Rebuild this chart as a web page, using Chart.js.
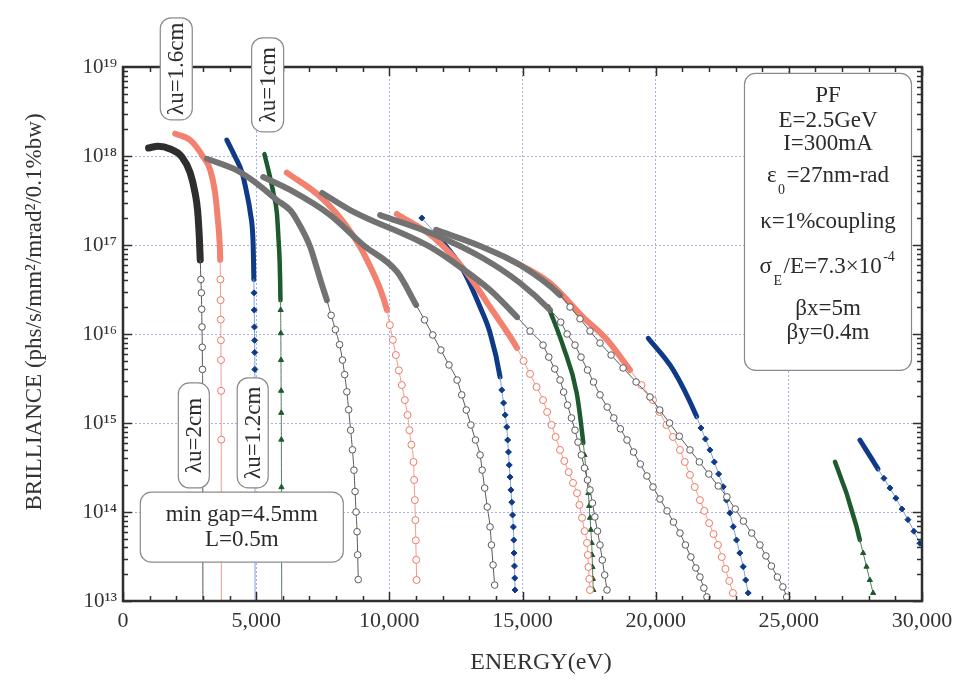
<!DOCTYPE html>
<html><head><meta charset="utf-8">
<script src="https://cdn.jsdelivr.net/npm/chart.js@4/dist/chart.umd.min.js"></script>
<style>html,body{margin:0;padding:0;background:#fff}#wrap{width:960px;height:687px}</style>
</head><body><div id="wrap"><canvas id="c" width="960" height="687"></canvas></div>
<script>
// ---------------- DATA (energy in eV, brilliance in phs/s/mm2/mrad2/0.1%bw) ----------------
// lambda_u = 2 cm (grey, open circles)
const E_2cm_h1 = [960,1320,1770,2210,2520,2710,2800,2870,2900,2925,2942,2955,2966,2976,2984,2991,3000];
const B_2cm_h1 = [1.23e18,1.29e18,1.2e18,9.8e17,6.5e17,3.8e17,2.45e17,1.15e17,6.8e16,4.1e16,2.9e16,1.9e16,1.2e16,7.1e15,4.0e15,2.4e15,1e13];
const E_2cm_h3 = [3150,4280,5030,5780,6280,6530,7030,7240,7440,7655,7816,7974,8131,8240,8323,8405,8473,8548,8615,8672,8713,8751,8788,8811,8833];
const B_2cm_h3 = [9.3e17,6.9e17,4.9e17,3.2e17,2.45e17,1.9e17,9.5e16,6.0e16,3.8e16,2.4e16,1.62e16,1.12e16,7.6e15,5.1e15,3.5e15,2.24e15,1.41e15,8.3e14,5.0e14,2.95e14,1.7e14,1e14,6.0e13,3.3e13,1.74e13];
const E_2cm_h5 = [5265,6278,7779,9017,10293,11006,11321,11632,11936,12240,12544,12717,12889,13062,13235,13407,13486,13580,13677,13782,13835,13895,13955];
const B_2cm_h5 = [5.8e17,4.15e17,2.17e17,1e17,4.98e16,2.12e16,1.44e16,9.75e15,6.6e15,4.49e15,3.04e15,2.07e15,1.4e15,9.5e14,6.44e14,4.37e14,2.96e14,1.86e14,1.14e14,6.8e13,4.26e13,2.54e13,1.51e13];
const E_2cm_h7 = [7478,8529,11531,12657,13782,14795,15283,15771,15988,16210,16409,16544,16690,16837,16972,17084,17208,17328,17441,17535,17625,17718,17816,17910,17996,18086,18173];
const B_2cm_h7 = [3.84e17,2.47e17,9.5e16,5.66e16,3.12e16,1.55e16,1.08e16,7.5e15,5.5e15,4.05e15,3.04e15,2.23e15,1.59e15,1.14e15,8.3e14,6.1e14,4.37e14,3.12e14,2.29e14,1.77e14,1.26e14,8.8e13,6.1e13,4.26e13,2.89e13,1.96e13,1.33e13];
const E_2cm_h9 = [9655,11644,13520,14908,16034,16435,16675,16972,17197,17441,17666,17910,18180,18428,18675,18923,19171,19422,19670,19899,20161,20428,20668,20912,21118,21321,21508,21662,21809,21925];
const B_2cm_h9 = [2.17e17,1.33e17,7.1e16,3.74e16,1.86e16,1.36e16,1e16,7.5e15,5.5e15,3.94e15,2.89e15,2.07e15,1.51e15,1.14e15,8.6e14,6.44e14,4.72e14,3.46e14,2.54e14,1.91e14,1.4e14,1.03e14,7.7e13,5.8e13,4.26e13,3.12e13,2.35e13,1.86e13,1.4e13,1.11e13];
const E_2cm_h11 = [11756,13407,14908,16409,16784,17159,17535,17910,18326,18777,19265,19786,20154,20522,20889,21287,21640,21996,22349,22675,22987,23295,23606,23914,24139,24345,24570,24777,24919];
const B_2cm_h11 = [1.48e17,9.75e16,5.96e16,2.74e16,2.01e16,1.48e16,1.08e16,7.9e15,5.8e15,4.15e15,2.89e15,1.96e15,1.4e15,1e15,7.1e14,4.98e14,3.65e14,2.67e14,1.96e14,1.48e14,1.08e14,7.9e13,5.8e13,4.26e13,3.21e13,2.47e13,1.86e13,1.44e13,1.11e13];
// lambda_u = 1.6 cm (salmon, open circles)
const E_16cm_h1 = [1960,2520,3010,3280,3460,3550,3620,3650,3657,3664,3670,3675,3679,3684,3688,3692];
const B_16cm_h1 = [1.78e18,1.51e18,9.8e17,6.9e17,3.8e17,2.1e17,1.15e17,6.8e16,4.1e16,2.4e16,1.45e16,8.5e15,5.1e15,2.3e15,6.5e14,1e13];
const E_16cm_h3 = [6150,7400,8410,9160,9910,10019,10131,10244,10356,10469,10582,10683,10754,10829,10908,10931,10957,10979,10994,11009,11024];
const B_16cm_h3 = [6.5e17,3.5e17,1.6e17,6.8e16,1.86e16,1.26e16,8.6e15,5.8e15,3.9e15,2.67e15,1.81e15,1.23e15,8.3e14,5.7e14,3.65e14,2.29e14,1.36e14,8.1e13,4.8e13,2.9e13,1.72e13];
const E_16cm_h5 = [10281,11644,12919,13782,14795,15039,15283,15527,15771,15925,16090,16244,16409,16570,16735,16897,17047,17137,17235,17332,17422,17452,17478,17508,17535];
const B_16cm_h5 = [2.23e17,1.23e17,4.84e16,2.01e16,6.97e15,4.98e15,3.56e15,2.54e15,1.81e15,1.33e15,9.5e14,6.97e14,4.98e14,3.74e14,2.81e14,2.12e14,1.63e14,1.2e14,8.6e13,6.1e13,4.49e13,3.29e13,2.41e13,1.77e13,1.33e13];
const E_16cm_h7 = [14348,16034,17272,18173,19036,19467,19899,20143,20405,20649,20912,21092,21287,21467,21662,21827,22007,22173,22338,22480,22619,22762,22901];
const B_16cm_h7 = [7.33e16,3.74e16,1.55e16,8.6e15,3.94e15,2.67e15,1.81e15,1.33e15,9.5e14,6.97e14,4.98e14,3.65e14,2.61e14,1.91e14,1.36e14,1.03e14,7.5e13,5.66e13,4.26e13,3.12e13,2.29e13,1.68e13,1.23e13];
// lambda_u = 1.2 cm (blue, filled diamonds)
const E_12cm_h1 = [3900,4210,4470,4650,4780,4880,4900,4912,4920,4928,4935,4941,4946,4950,4960];
const B_12cm_h1 = [1.51e18,9.8e17,6.5e17,3.8e17,2.3e17,1.15e17,6.8e16,4.1e16,2.9e16,1.86e16,1.2e16,8.5e15,6.2e15,4e15,1e13];
const E_12cm_h3 = [11220,11782,12769,13407,13782,14158,14221,14289,14349,14409,14443,14473,14503,14533,14567,14597,14627,14657,14672,14683,14698,14709,14720];
const B_12cm_h3 = [2.01e17,1.29e17,5.24e16,2.01e16,1.03e16,3.29e15,2.35e15,1.68e15,1.23e15,9e14,6.44e14,4.72e14,3.37e14,2.47e14,1.77e14,1.29e14,9.25e13,6.8e13,4.84e13,3.46e13,2.47e13,1.81e13,1.33e13];
const E_12cm_h5 = [19722,20660,21538,21700,21869,22037,22203,22364,22537,22660,22784,22912,23036,23159,23287,23381,23475];
const B_12cm_h5 = [8.95e15,3.94e15,1.18e15,8.8e14,6.6e14,4.98e14,3.65e14,2.67e14,1.92e14,1.36e14,9.75e13,6.84e13,4.84e13,3.46e13,2.43e13,1.72e13,1.23e13];
const E_12cm_h7 = [27670,27895,28120,28345,28570,28795,29020,29246,29471,29696,29921];
const B_12cm_h7 = [6.44e14,5.02e14,3.92e14,3.05e14,2.39e14,1.86e14,1.43e14,1.08e14,8.2e13,6.07e13,4.45e13];
// lambda_u = 1 cm (green, filled triangles)
const E_1cm_h1 = [5310,5460,5650,5780,5840,5880,5900,5912,5920,5926,5932,5937,5942,5946,5950,5960];
const B_1cm_h1 = [1.05e18,6.9e17,3.8e17,2.24e17,1.15e17,6.8e16,4e16,2.4e16,1.86e16,1.02e16,5.1e15,2.3e15,1.3e15,6.5e14,1.9e14,1e13];
const E_1cm_h3 = [15970,16533,17036,17283,17328,17377,17422,17471,17505,17535,17565,17598,17613,17628,17643,17659];
const B_1cm_h3 = [2.03e16,7.2e15,2.17e15,5.96e14,4.37e14,3.12e14,2.29e14,1.63e14,1.17e14,8.6e13,6.3e13,4.49e13,3.29e13,2.41e13,1.77e13,1.33e13];
const E_1cm_h5 = [26732,26848,26998,27167,27287,27411,27542,27666,27790,27917,28041,28165];
const B_1cm_h5 = [3.67e14,2.96e14,2.23e14,1.62e14,1.23e14,9.25e13,6.84e13,4.84e13,3.46e13,2.43e13,1.72e13,1.23e13];

// axis ticks and titles
const X_TICK_VALUES = [0,5000,10000,15000,20000,25000,30000];
const X_TICK_LABELS = ['0','5,000','10,000','15,000','20,000','25,000','30,000'];
const Y_DECADES = [13,14,15,16,17,18,19];
const X_TITLE = 'ENERGY(eV)';
const Y_TITLE = 'BRILLIANCE (phs/s/mm²/mrad²/0.1%bw)';

// ---------------- STYLES ----------------
const SERIF = '"Liberation Serif","Times New Roman",serif';
const STYLE = {
  g1:   {thick:'#2e2e2e', w:7,   thin:'#555', marker:'#555', fill:'#fff', style:'circle', r:3.3},
  gray: {thick:'#727272', w:6,   thin:'#5a5a5a', marker:'#5a5a5a', fill:'#fff', style:'circle', r:3.3},
  red:  {thick:'#f2826f', w:6,   thin:'#f29a8a', marker:'#ee7a66', fill:'#fff', style:'circle', r:3.5},
  blue: {thick:'#0e3a88', w:5,   thin:'#7f9fd6', marker:'#0e3a88', fill:'#0e3a88', style:'rectRot', r:3},
  green:{thick:'#1f5a2f', w:4.5, thin:'#557a5e', marker:'#1f5a2f', fill:'#1f5a2f', style:'triangle', r:3}
};
const curves = [
  {name:'λu=2cm 1st',  E:E_2cm_h1,  B:B_2cm_h1,  kind:'g1',   dense:[0,8]},
  {name:'λu=2cm 3rd',  E:E_2cm_h3,  B:B_2cm_h3,  kind:'gray', dense:[0,9]},
  {name:'λu=2cm 5th',  E:E_2cm_h5,  B:B_2cm_h5,  kind:'gray', dense:[0,5]},
  {name:'λu=2cm 7th',  E:E_2cm_h7,  B:B_2cm_h7,  kind:'gray', dense:[0,5]},
  {name:'λu=2cm 9th',  E:E_2cm_h9,  B:B_2cm_h9,  kind:'gray', dense:[0,4]},
  {name:'λu=2cm 11th', E:E_2cm_h11, B:B_2cm_h11, kind:'gray', dense:[0,3]},
  {name:'λu=1.6cm 1st',E:E_16cm_h1, B:B_16cm_h1, kind:'red',  dense:[0,7]},
  {name:'λu=1.6cm 3rd',E:E_16cm_h3, B:B_16cm_h3, kind:'red',  dense:[0,4]},
  {name:'λu=1.6cm 5th',E:E_16cm_h5, B:B_16cm_h5, kind:'red',  dense:[0,4]},
  {name:'λu=1.6cm 7th',E:E_16cm_h7, B:B_16cm_h7, kind:'red',  dense:[0,4]},
  {name:'λu=1.2cm 1st',E:E_12cm_h1, B:B_12cm_h1, kind:'blue', dense:[0,7]},
  {name:'λu=1.2cm 3rd',E:E_12cm_h3, B:B_12cm_h3, kind:'blue', dense:[1,5]},
  {name:'λu=1.2cm 5th',E:E_12cm_h5, B:B_12cm_h5, kind:'blue', dense:[0,2]},
  {name:'λu=1.2cm 7th',E:E_12cm_h7, B:B_12cm_h7, kind:'blue', dense:[0,3]},
  {name:'λu=1cm 1st',  E:E_1cm_h1,  B:B_1cm_h1,  kind:'green',dense:[0,7]},
  {name:'λu=1cm 3rd',  E:E_1cm_h3,  B:B_1cm_h3,  kind:'green',dense:[0,3]},
  {name:'λu=1cm 5th',  E:E_1cm_h5,  B:B_1cm_h5,  kind:'green',dense:[0,7]}
];

// annotation boxes: centre in data units, size in px
const NOTES = [
  {rot:true, text:'λu=1.6cm', E:2000, B:Math.pow(10,18.98), w:32, h:102},
  {rot:true, text:'λu=1cm',   E:5430, B:Math.pow(10,18.80), w:32, h:94},
  {rot:true, text:'λu=2cm',   E:2660, B:Math.pow(10,14.86), w:31, h:105},
  {rot:true, text:'λu=1.2cm', E:4870, B:Math.pow(10,14.89), w:31, h:110},
  {rot:false, E:4460, B:Math.pow(10,13.83), w:203, h:70,
   lines:[{dy:-6,parts:[{t:'min gap=4.5mm'}]},{dy:19,parts:[{t:'L=0.5m'}]}]},
  {rot:false, E:26470, B:Math.pow(10,17.26), w:167, h:297,
   lines:[
     {dy:-120,parts:[{t:'PF'}]},
     {dy:-95,parts:[{t:'E=2.5GeV'}]},
     {dy:-72,parts:[{t:'I=300mA'}]},
     {dy:-40,parts:[{t:'ε'},{t:'0',sub:true},{t:'=27nm-rad'}]},
     {dy:6,parts:[{t:'κ=1%coupling'}]},
     {dy:51,parts:[{t:'σ'},{t:'E',sub:true},{t:'/E=7.3×10'},{t:'-4',sup:true}]},
     {dy:93,parts:[{t:'βx=5m'}]},
     {dy:117,parts:[{t:'βy=0.4m'}]}
   ]}
];

// ---------------- HELPERS ----------------
const SUP = {'0':'⁰','1':'¹','2':'²','3':'³','4':'⁴','5':'⁵','6':'⁶','7':'⁷','8':'⁸','9':'⁹','-':'⁻'};
const toSup = s => String(s).split('').map(ch => SUP[ch] || ch).join('');

const frameTicks = {
  id:'frameTicks',
  afterDatasetsDraw(chart){
    const {ctx, chartArea:a, scales:{x, y}} = chart;
    ctx.save();
    ctx.strokeStyle = '#2e2e2e';
    ctx.lineWidth = 1.5;
    ctx.beginPath();
    for (let v = 0; v <= 30000; v += 1000) {
      const px = Math.round(x.getPixelForValue(v)) + 0.5;
      const L = v % 5000 === 0 ? 9 : 5;
      ctx.moveTo(px, a.bottom); ctx.lineTo(px, a.bottom - L);
      ctx.moveTo(px, a.top); ctx.lineTo(px, a.top + L);
    }
    for (let d = 13; d < 19; d++) {
      for (let m = 1; m < 10; m++) {
        const py = Math.round(y.getPixelForValue(m * Math.pow(10, d))) + 0.5;
        const L = m === 1 ? 9 : 5;
        ctx.moveTo(a.left, py); ctx.lineTo(a.left + L, py);
        ctx.moveTo(a.right, py); ctx.lineTo(a.right - L, py);
      }
    }
    ctx.stroke();
    ctx.lineWidth = 2.5;
    ctx.strokeRect(a.left, a.top, a.right - a.left, a.bottom - a.top);
    ctx.restore();
  }
};

function roundBox(ctx, x, y, w, h, r){
  ctx.beginPath();
  ctx.moveTo(x + r, y);
  ctx.arcTo(x + w, y, x + w, y + h, r);
  ctx.arcTo(x + w, y + h, x, y + h, r);
  ctx.arcTo(x, y + h, x, y, r);
  ctx.arcTo(x, y, x + w, y, r);
  ctx.closePath();
  ctx.fillStyle = '#fff'; ctx.fill();
  ctx.strokeStyle = '#8a8a8a'; ctx.lineWidth = 1.2; ctx.stroke();
}

const textPlugin = {
  id:'texts',
  afterDraw(chart){
    const {ctx, scales:{x, y}} = chart;
    ctx.save();
    // axis titles
    ctx.fillStyle = '#333';
    ctx.textAlign = 'center'; ctx.textBaseline = 'middle';
    ctx.font = '24px ' + SERIF;
    ctx.fillText(X_TITLE, 541, 663);
    ctx.save();
    ctx.translate(35, 312); ctx.rotate(-Math.PI/2);
    ctx.font = '23px ' + SERIF;
    ctx.fillText(Y_TITLE, 0, 0);
    ctx.restore();
    // annotation boxes
    for (const n of NOTES) {
      const cx = x.getPixelForValue(n.E), cy = y.getPixelForValue(n.B);
      roundBox(ctx, cx - n.w/2, cy - n.h/2, n.w, n.h, 11);
      ctx.fillStyle = '#2b2b2b';
      if (n.rot) {
        ctx.save();
        ctx.translate(cx, cy);
        ctx.rotate(-Math.PI/2);
        ctx.font = '23px ' + SERIF;
        ctx.textAlign = 'center';
        ctx.textBaseline = 'middle';
        ctx.fillText(n.text, 0, 1);
        ctx.restore();
      } else {
        for (const ln of n.lines) {
          const big = '23px ' + SERIF, small = '14px ' + SERIF;
          let total = 0;
          for (const p of ln.parts) { ctx.font = (p.sub || p.sup) ? small : big; total += ctx.measureText(p.t).width + ((p.sub||p.sup) ? 3 : 0); }
          let px = cx - total/2;
          const base = cy + ln.dy;
          ctx.textAlign = 'left'; ctx.textBaseline = 'alphabetic';
          for (const p of ln.parts) {
            ctx.font = (p.sub || p.sup) ? small : big;
            const off = p.sub ? 12 : (p.sup ? -12 : 0);
            const pad = (p.sub||p.sup) ? 1.5 : 0;
            ctx.fillText(p.t, px + pad, base + off);
            px += ctx.measureText(p.t).width + 2*pad;
          }
        }
      }
    }
    ctx.restore();
  }
};

// ---------------- CHART ----------------
const datasets = curves.map(c => {
  const st = STYLE[c.kind];
  const [d0, d1] = c.dense;
  const inDense = (a, b) => a >= d0 && b <= d1;
  return {
    label: c.name,
    data: c.E.map((e, i) => ({x: e, y: c.B[i]})),
    showLine: true,
    borderColor: st.thin,
    borderWidth: 1,
    backgroundColor: st.fill,
    pointStyle: st.style,
    pointBorderColor: st.marker,
    pointBackgroundColor: st.fill,
    pointBorderWidth: 1,
    pointRadius: ctx => (ctx.dataIndex >= d0 && ctx.dataIndex <= d1) || c.B[ctx.dataIndex] <= 1e13 ? 0 : st.r,
    pointHoverRadius: 0,
    cubicInterpolationMode: 'monotone',
    borderCapStyle: 'round',
    borderJoinStyle: 'round',
    segment: {
      borderWidth: ctx => inDense(ctx.p0DataIndex, ctx.p1DataIndex) ? st.w : 1,
      borderColor: ctx => inDense(ctx.p0DataIndex, ctx.p1DataIndex) ? st.thick : st.thin
    }
  };
});

new Chart(document.getElementById('c'), {
  type: 'scatter',
  data: {datasets},
  options: {
    responsive: false,
    animation: false,
    devicePixelRatio: 1,
    layout: {padding: {left: 0, right: 38, top: 67, bottom: 0}},
    plugins: {legend: {display: false}, tooltip: {enabled: false}},
    scales: {
      x: {
        type: 'linear', min: 0, max: 30000,
        afterFit: s => { s.height = 86; },
        afterBuildTicks: s => { s.ticks = X_TICK_VALUES.map(v => ({value: v})); },
        ticks: {
          autoSkip: false, maxRotation: 0, padding: 7, color: '#333',
          font: {family: SERIF, size: 22},
          callback: v => X_TICK_LABELS[X_TICK_VALUES.indexOf(v)]
        },
        grid: {color: '#a9b2de', lineWidth: 1, drawTicks: false},
        border: {display: false, dash: [2, 2]},
        title: {display: false, text: X_TITLE}
      },
      y: {
        type: 'logarithmic', min: 1e13, max: 1e19,
        afterFit: s => { s.width = 123; },
        afterBuildTicks: s => { s.ticks = Y_DECADES.map(d => ({value: Math.pow(10, d)})); },
        ticks: {
          autoSkip: false, padding: 6, color: '#333',
          font: {family: SERIF, size: 21},
          callback: v => '10' + toSup(Math.round(Math.log10(v)))
        },
        grid: {color: '#a9b2de', lineWidth: 1, drawTicks: false},
        border: {display: false, dash: [2, 2]},
        title: {display: false, text: Y_TITLE}
      }
    }
  },
  plugins: [frameTicks, textPlugin]
});
</script></body></html>
